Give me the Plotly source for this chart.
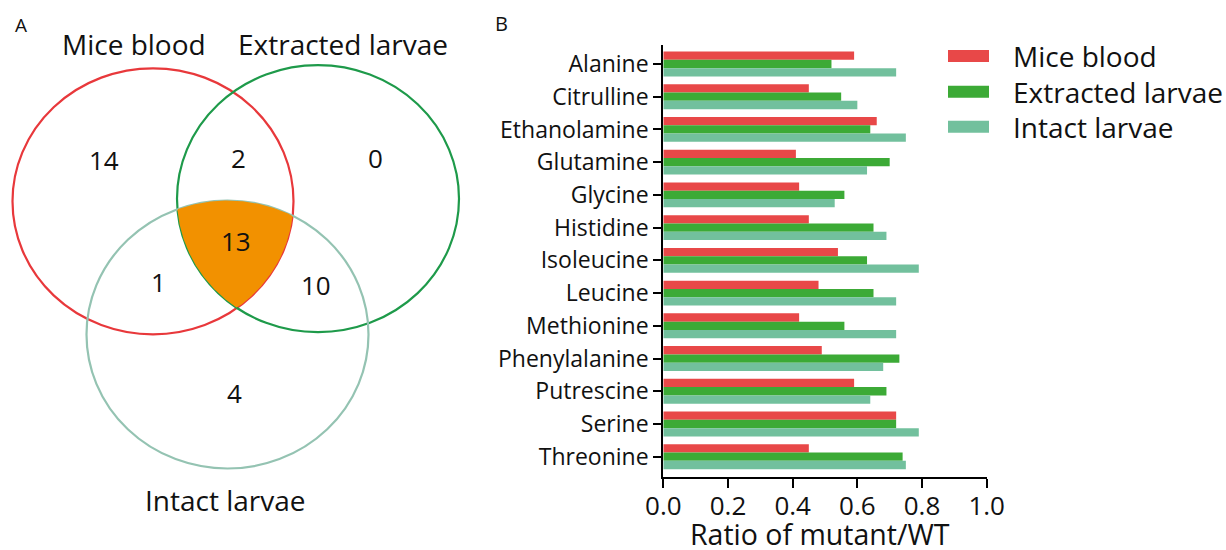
import numpy as np
import plotly.graph_objects as go

W, H = 1226, 550

# ---------------- data ----------------
amino_acids = ["Alanine", "Citrulline", "Ethanolamine", "Glutamine", "Glycine", "Histidine",
               "Isoleucine", "Leucine", "Methionine", "Phenylalanine", "Putrescine", "Serine",
               "Threonine"]
mice_blood = [0.59, 0.45, 0.66, 0.41, 0.42, 0.45, 0.54, 0.48, 0.42, 0.49, 0.59, 0.72, 0.45]
extracted_larvae = [0.52, 0.55, 0.64, 0.70, 0.56, 0.65, 0.63, 0.65, 0.56, 0.73, 0.69, 0.72, 0.74]
intact_larvae = [0.72, 0.60, 0.75, 0.63, 0.53, 0.69, 0.79, 0.72, 0.72, 0.68, 0.64, 0.79, 0.75]
series_names = ["Mice blood", "Extracted larvae", "Intact larvae"]
x_ticks = [0.0, 0.2, 0.4, 0.6, 0.8, 1.0]
x_title = "Ratio of mutant/WT"

# Venn counts
venn_sets = ["Mice blood", "Extracted larvae", "Intact larvae"]
venn_only_mice = 14
venn_only_extracted = 0
venn_only_intact = 4
venn_mice_extracted = 2
venn_mice_intact = 1
venn_extracted_intact = 10
venn_all = 13

# ---------------- styles ----------------
bar_colors = ["#E84848", "#3CAA36", "#72C09D"]
circle_colors = ["#E8383B", "#1E9A4A", "#94C3B2"]
orange = "#F29100"
FONT = "Open Sans"
TXT = "#111111"


def px(x):
    return x / W


def py(y):
    return 1 - y / H


fig = go.Figure()

# ---------------- panel B: bars ----------------
for name, vals, col in zip(series_names, [mice_blood, extracted_larvae, intact_larvae], bar_colors):
    fig.add_trace(go.Bar(
        y=amino_acids, x=vals, name=name, orientation="h",
        marker=dict(color=col, line=dict(width=0)),
        xaxis="x", yaxis="y", showlegend=False,
    ))

# ---------------- panel A: Venn ----------------
ellipses = [  # cx, cy, rx, ry (pixel-like units of the venn axes)
    (153.0, 201.3, 140.5, 133.0),
    (318.0, 198.7, 141.0, 133.5),
    (227.5, 334.5, 141.0, 134.0),
]

# triple intersection region (convex): ray-cast from an interior point
c0 = np.array([236.0, 262.0])
thetas = np.linspace(0, 2 * np.pi, 721)
pts_x, pts_y = [], []
for t in thetas:
    d = np.array([np.cos(t), np.sin(t)])
    rmin = np.inf
    for (cx, cy, rx, ry) in ellipses:
        ox, oy = (c0[0] - cx) / rx, (c0[1] - cy) / ry
        dx, dy = d[0] / rx, d[1] / ry
        a = dx * dx + dy * dy
        b = 2 * (ox * dx + oy * dy)
        c = ox * ox + oy * oy - 1
        r = (-b + np.sqrt(b * b - 4 * a * c)) / (2 * a)
        rmin = min(rmin, r)
    pts_x.append(c0[0] + rmin * d[0])
    pts_y.append(c0[1] + rmin * d[1])

fig.add_trace(go.Scatter(
    x=pts_x, y=pts_y, mode="lines", fill="toself", fillcolor=orange,
    line=dict(width=0, color=orange), xaxis="x2", yaxis="y2",
    showlegend=False, hoverinfo="skip",
))

shapes = []
for (cx, cy, rx, ry), col in zip(ellipses, circle_colors):
    shapes.append(dict(type="circle", xref="x2", yref="y2",
                       x0=cx - rx, x1=cx + rx, y0=cy - ry, y1=cy + ry,
                       line=dict(color=col, width=2.2), layer="below"))

annotations = []
venn_labels = [(venn_sets[0], 134, 44), (venn_sets[1], 343, 44), (venn_sets[2], 225, 500)]
for txt, x, y in venn_labels:
    annotations.append(dict(text=txt, x=x, y=y, xref="x2", yref="y2", showarrow=False,
                            font=dict(family=FONT, size=28, color=TXT),
                            xanchor="center", yanchor="middle"))

venn_numbers = [
    (venn_only_mice, 104, 160), (venn_mice_extracted, 238, 158), (venn_only_extracted, 375, 158),
    (venn_all, 236, 241), (venn_mice_intact, 158, 282), (venn_extracted_intact, 316, 285),
    (venn_only_intact, 234, 393),
]
for n, x, y in venn_numbers:
    annotations.append(dict(text=str(n), x=x, y=y, xref="x2", yref="y2", showarrow=False,
                            font=dict(family=FONT, size=26, color=TXT),
                            xanchor="center", yanchor="middle"))

# panel letters
annotations.append(dict(text="A", x=px(20.5), y=py(25), xref="paper", yref="paper",
                        xanchor="center", yanchor="middle",
                        showarrow=False, font=dict(family=FONT, size=19, color=TXT)))
annotations.append(dict(text="B", x=px(501.5), y=py(23), xref="paper", yref="paper",
                        xanchor="center", yanchor="middle",
                        showarrow=False, font=dict(family=FONT, size=20, color=TXT)))

# x-axis title of panel B
annotations.append(dict(text=x_title, x=px(820), y=py(534), xref="paper", yref="paper",
                        xanchor="center", yanchor="middle", showarrow=False,
                        font=dict(family=FONT, size=28.5, color=TXT)))

# legend (manual)
leg_rows = [56, 91.7, 126.7]
for name, col, yc in zip(series_names, bar_colors, leg_rows):
    shapes.append(dict(type="rect", xref="paper", yref="paper",
                       x0=px(948), x1=px(989), y0=py(yc - 6), y1=py(yc + 6),
                       fillcolor=col, line=dict(width=0)))
    annotations.append(dict(text=name, x=px(1011), y=py(yc), xref="paper", yref="paper",
                            showarrow=False, xanchor="left", yanchor="middle",
                            font=dict(family=FONT, size=28, color=TXT)))

fig.update_layout(
    template="none",
    width=W, height=H,
    margin=dict(l=0, r=0, t=0, b=0, pad=0),
    paper_bgcolor="white", plot_bgcolor="white",
    barmode="group", bargap=0.24, bargroupgap=0.0,
    font=dict(family=FONT, color=TXT),
    showlegend=False,
    shapes=shapes, annotations=annotations,
    xaxis=dict(
        domain=[px(663.3), px(986.7)], range=[0, 1.0],
        tickvals=x_ticks, ticktext=[f"{v:.1f}" for v in x_ticks],
        ticks="outside", ticklen=9, tickwidth=2, tickcolor="black",
        ticklabelstandoff=-4,
        showline=True, linecolor="black", linewidth=2.2,
        showgrid=False, zeroline=False, automargin=False,
        tickfont=dict(family=FONT, size=26, color=TXT),
        anchor="y", fixedrange=True,
    ),
    yaxis=dict(
        domain=[py(477), py(45)], range=[12.62, -0.58],
        type="category",
        ticks="outside", ticklen=8, tickwidth=2, tickcolor="black",
        showline=True, linecolor="black", linewidth=2.2,
        showgrid=False, zeroline=False, automargin=False,
        tickfont=dict(family=FONT, size=23, color=TXT),
        anchor="x", fixedrange=True,
    ),
    xaxis2=dict(domain=[0, px(480)], range=[0, 480], visible=False, anchor="y2",
                automargin=False, fixedrange=True),
    yaxis2=dict(domain=[0, 1], range=[550, 0], visible=False, anchor="x2",
                automargin=False, fixedrange=True),
)

fig.write_html(
    "out.html",
    config={"displayModeBar": False},
    post_script="document.body.style.margin='0px';document.body.style.overflow='hidden';",
)
